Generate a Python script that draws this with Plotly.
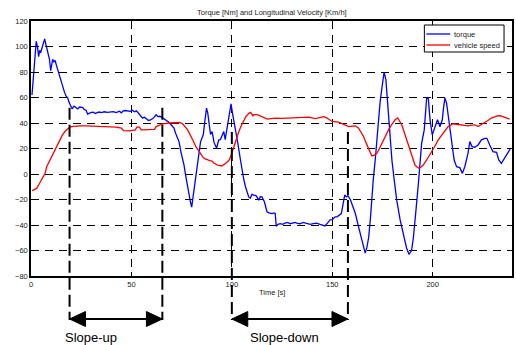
import plotly.graph_objects as go

# Torque [Nm] over time [s]
torque_t = [0.5, 1.5, 2.6, 3.2, 3.8, 4.3, 4.8, 5.5, 6.8, 7.5, 8.4, 9.2, 9.8, 10.3, 10.8, 11.4, 12, 12.7, 13.4, 14.2,
            15, 15.8, 16.7, 17.5, 18.3, 19, 19.7, 20.5, 21.2, 21.7, 22.5, 23.3, 24.2, 25, 25.8, 26.6, 27.4, 28.2, 29, 30,
            31, 32, 33, 34, 35, 36.5, 38, 39.5, 41, 42.5, 44, 45, 46, 47, 48, 49.5, 50.5, 51.5, 52.5, 53.5,
            54.5, 55.5, 56.5, 57.5, 58.5, 59.5, 60.5, 61.5, 62.3, 63.2, 64.2, 65.5, 66.5, 67.5, 68.5, 69.5, 70.5, 71.2, 72, 72.8,
            73.7, 74.7, 75.4, 76.2, 77, 77.8, 78.7, 79.4, 80, 80.5, 81.2, 82, 82.8, 83.6, 84.4, 85.1, 85.8, 86.6, 87.4, 88,
            88.6, 89.4, 90.2, 91.1, 92.4, 93.5, 94.3, 95.2, 96, 96.7, 97.6, 98.5, 99.6, 100.4, 101, 101.8, 103, 104.3, 105.2, 106,
            106.8, 107.6, 108.4, 109.2, 110, 110.9, 112, 112.7, 113.4, 114.2, 115, 116.2, 116.8, 117.5, 118.5, 120, 121, 121.6, 122.1, 123,
            124.1, 125.3, 126.5, 127.8, 129, 130.2, 131.5, 132.7, 134, 135.5, 137.3, 139, 140.6, 142.2, 143.9, 145.2, 146.4, 147.6, 148.9, 150,
            151.4, 152.4, 153.5, 154.5, 155.3, 156.2, 157, 157.8, 159, 160.2, 161.5, 163.1, 164.8, 166.4, 167.2, 168.1, 169, 169.7, 170.5, 171.4,
            172.2, 173, 173.8, 174.6, 175.2, 175.8, 176.7, 177.4, 178, 178.8, 179.7, 180.8, 182.1, 183.8, 185, 185.9, 187, 188.2, 189.5, 190.4,
            191.2, 192, 192.9, 193.7, 194.5, 195.8, 196.4, 197, 197.8, 198.3, 198.7, 199.8, 201.1, 202.4, 203.6, 204.8, 205.4, 206.1, 206.9, 207.5,
            208.1, 208.8, 209.4, 210.7, 211.9, 213.5, 214.8, 216, 217.6, 218.5, 219.6, 221, 222.6, 224.3, 225.9, 227, 228.4, 230, 231.8, 232.9,
            234.2, 235.8, 237.5, 238.8]
torque_v = [62, 85, 104, 100, 92, 97, 95, 99, 106, 101, 96, 90, 81, 86, 90, 88, 89, 85, 81, 77,
            73, 69, 64, 61, 59.6, 56, 54, 51, 53, 53, 52, 51, 52.5, 52, 52, 50.5, 50, 47, 47.8, 48.3,
            48.5, 47.5, 48.2, 48.6, 48.2, 48.8, 48.3, 48.7, 48.9, 48.2, 49.2, 48, 49.5, 49.8, 49.6, 49.2, 50, 48.8, 49.5, 47.8,
            45.5, 44, 44.5, 43.5, 42, 42.5, 43.3, 44.8, 46.5, 45, 45.3, 44, 43, 41.5, 40.8, 39, 37.2, 36, 32, 28.5,
            25.4, 17, 13, 7, -1, -9, -16.5, -22, -26, -20, -11, 0, 9.7, 18, 25, 28, 31, 42, 51.7, 48,
            41, 31, 33.3, 25, 20.2, 26.8, 27, 30.7, 33.3, 27, 37, 46.5, 55, 47, 42, 37, 24, 11, 2, -4.7,
            -10, -15, -18, -19, -16, -16.5, -17, -18.5, -20.5, -17.8, -18, -21.8, -26, -29.6, -30.5, -31, -30.5, -31, -41, -39.5,
            -38.9, -39.5, -38.5, -38, -39, -38.4, -38, -38.8, -39, -38, -38.5, -39.5, -39, -38.6, -39.5, -40.2, -40.7, -38.5, -36, -35.8,
            -33.6, -33.6, -32, -31, -24.4, -16.5, -18, -17, -20, -26, -31, -41.5, -52, -62, -58, -50, -35, -17.8, -3, 11,
            28, 45, 56, 66, 74, 79.8, 74, 60, 45, 28, 11, -4, -20.5, -36, -45, -52, -58, -63, -60, -50,
            -39, -23, -7.3, 8, 24, 34.6, 48, 59.6, 59.6, 50, 42.5, 30.7, 37, 42.5, 37, 42.5, 52, 59.6, 55.7, 49,
            42.5, 32, 24, 11, 5.7, 5, 0.5, 5.7, 16.3, 25.4, 21.5, 21, 22.8, 26.8, 28, 28, 22.8, 17.6, 17, 11,
            8.4, 12.4, 16.3, 20.2]

# Vehicle speed [Km/h] over time [s]
speed_t = [0.6, 1.5, 2.8, 4, 5.3, 7, 7.8, 9.4, 11, 12.7, 14.4, 15.6, 16.9, 18.1, 19.3, 21, 22.7, 25, 27.6, 31,
           34.2, 38, 42.5, 45, 46.1, 49.1, 52, 52.7, 54, 54.9, 57.4, 61.5, 62.3, 65.6, 68.9, 73.9, 75.5, 76.8, 78, 80.5,
           82.1, 83.8, 85.4, 86.5, 87.9, 89, 90.1, 91.2, 92.9, 95, 97, 98.7, 100, 101, 102, 103.2, 104.5, 105.8, 107, 108.6,
           109.4, 110.5, 111, 112.7, 115.2, 117.7, 119.5, 121.8, 125, 128.4, 131, 133.3, 136, 138.3, 141.6, 143.5, 145.8, 147.4, 149.9, 153.2,
           155, 156.5, 158.2, 160, 161.5, 163.1, 164.4, 165.6, 166.7, 167.7, 168.8, 169.7, 170.8, 172.2, 173.5, 174.7, 176.3, 178, 179.7, 181.3,
           182.6, 183.6, 184.6, 185.8, 187.1, 188.4, 189.6, 190.4, 191.2, 192.2, 193.2, 194.2, 195.3, 197, 198.7, 200.8, 202.8, 205.2, 207.7, 210.2,
           212, 214.3, 216, 217.6, 219.5, 221, 222.6, 224.2, 225.9, 227.5, 229.2, 231, 232.5, 234, 235.8, 237, 238.3]
speed_v = [-13, -12.5, -11.3, -8, -4.7, 0.5, 5.7, 11, 16.3, 21.5, 26.8, 30.5, 33.3, 35.3, 36.8, 37.4, 37.8, 37.8, 37.8, 37.6,
           37.2, 37.2, 36.8, 36, 34, 33.9, 34.6, 36.8, 36.8, 34.6, 34.6, 35, 37.2, 39.4, 40, 40.4, 39.4, 37, 34.6, 26.8,
           21.5, 17.6, 13.6, 12, 11, 10.5, 10.2, 8.4, 7, 6.3, 8.4, 11, 16.3, 21.5, 26.8, 32, 37.2, 41.5, 45, 47.8,
           48.3, 45.6, 46.5, 46.5, 45, 43, 43.5, 43.9, 43.6, 43.9, 44.2, 44.5, 44.3, 44.6, 43.5, 44, 45, 43.9, 41.2, 40.7,
           39.5, 38.6, 37.2, 37.6, 37.8, 36, 33, 29.4, 25, 21.5, 17, 14.2, 14.5, 16.3, 20, 24.2, 29.5, 34.6, 39, 42.5,
           43.9, 41.5, 38.6, 33, 26.8, 20, 13.6, 10, 7, 5.5, 4.5, 5.5, 7, 11, 15, 21, 26.8, 32, 37.2, 39.4,
           39, 38.6, 38, 37.8, 38.4, 38.6, 37.2, 38.6, 40, 42, 43.9, 45, 45.7, 45.5, 44.6, 44, 43]

x_ticks = [0, 50, 100, 150, 200]
y_ticks = [-80, -60, -40, -20, 0, 20, 40, 60, 80, 100, 120]

# Phase boundaries [s] and the value where each marker line begins
phase_names = ["Slope-up", "Slope-down"]
phase_bounds = [(19.2, 65.4), (100.0, 157.8)]
phase_marker_top = [52, 33]

FONT = "Liberation Sans, Arial, sans-serif"
W, H = 516, 345
PL, PT, PW, PH = 31, 21, 483, 255
X_MAX = 239.5
Y_MIN, Y_MAX = -80, 120


def fx(px):
    return (px - PL) / PW


def fy(py):
    return (PT + PH - py) / PH


def yval_paper(v):
    return (v - Y_MIN) / (Y_MAX - Y_MIN)


fig = go.Figure()
fig.add_trace(go.Scatter(x=torque_t, y=torque_v, mode="lines", name="torque",
                         line=dict(color="#0000FF", width=1.3)))
fig.add_trace(go.Scatter(x=speed_t, y=speed_v, mode="lines", name="vehicle speed",
                         line=dict(color="#FF0000", width=1.3)))

shapes = []
annotations = []

# Phase markers: thick dashed verticals down below the axes, double arrows and labels
arrow_y = fy(319)
head_len = 16 / PW * X_MAX
head_half = 7.5 / PH
for name, (t0, t1), top in zip(phase_names, phase_bounds, phase_marker_top):
    for t in (t0, t1):
        shapes.append(dict(type="line", xref="x", yref="paper", x0=t, x1=t,
                           y0=yval_paper(top), y1=arrow_y - 0.004,
                           line=dict(color="black", width=2, dash="12px,5px")))
    shapes.append(dict(type="line", xref="x", yref="paper", x0=t0 + head_len * 0.8, x1=t1 - head_len * 0.8,
                       y0=arrow_y, y1=arrow_y, line=dict(color="black", width=2)))
    shapes.append(dict(type="path", xref="x", yref="paper",
                       path=f"M {t0} {arrow_y} L {t0 + head_len} {arrow_y + head_half} "
                            f"L {t0 + head_len} {arrow_y - head_half} Z",
                       fillcolor="black", line=dict(color="black", width=1)))
    shapes.append(dict(type="path", xref="x", yref="paper",
                       path=f"M {t1} {arrow_y} L {t1 - head_len} {arrow_y + head_half} "
                            f"L {t1 - head_len} {arrow_y - head_half} Z",
                       fillcolor="black", line=dict(color="black", width=1)))

annotations.append(dict(text=phase_names[0], xref="paper", yref="paper", x=fx(91), y=fy(337),
                        showarrow=False, xanchor="center", yanchor="middle",
                        font=dict(family=FONT, size=13, color="black")))
annotations.append(dict(text=phase_names[1], xref="paper", yref="paper", x=fx(286), y=fy(337),
                        showarrow=False, xanchor="center", yanchor="middle",
                        font=dict(family=FONT, size=13, color="black")))

# Axis title and chart title
annotations.append(dict(text="Time [s]", xref="paper", yref="paper", x=fx(272.5), y=fy(292),
                        showarrow=False, xanchor="center", yanchor="middle",
                        font=dict(family=FONT, size=7.5, color="#222")))
annotations.append(dict(text="Torque [Nm] and Longitudinal Velocity [Km/h]", xref="paper", yref="paper",
                        x=fx(273), y=fy(12.5), showarrow=False, xanchor="center", yanchor="middle",
                        font=dict(family=FONT, size=7.5, color="#222")))

# Legend box
shapes.append(dict(type="rect", xref="paper", yref="paper", x0=fx(426), x1=fx(506), y0=fy(25), y1=fy(52),
                   fillcolor="white", line=dict(color="black", width=1), layer="above"))
for label, color, py in [("torque", "#0000FF", 34), ("vehicle speed", "#FF0000", 45)]:
    shapes.append(dict(type="line", xref="paper", yref="paper", x0=fx(428), x1=fx(452), y0=fy(py), y1=fy(py),
                       line=dict(color=color, width=1.3), layer="above"))
    annotations.append(dict(text=label, xref="paper", yref="paper", x=fx(454), y=fy(py),
                            showarrow=False, xanchor="left", yanchor="middle",
                            font=dict(family=FONT, size=7.5, color="#222")))

axis_common = dict(showline=True, linecolor="black", linewidth=1.5, mirror="ticks",
                   ticks="inside", ticklen=4, tickcolor="black", tickwidth=1,
                   showgrid=True, gridcolor="black", gridwidth=1, griddash="8px,6px",
                   zeroline=False, tickfont=dict(family=FONT, size=7.5, color="#222"))

fig.update_layout(
    width=W, height=H,
    margin=dict(l=PL, r=W - PL - PW, t=PT, b=H - PT - PH, pad=0),
    paper_bgcolor="white", plot_bgcolor="white",
    showlegend=False,
    xaxis=dict(range=[0, X_MAX], tickvals=x_ticks, **axis_common),
    yaxis=dict(range=[Y_MIN, Y_MAX], tickvals=y_ticks, **axis_common),
    shapes=shapes,
    annotations=annotations,
)

fig.write_html("out.html")
